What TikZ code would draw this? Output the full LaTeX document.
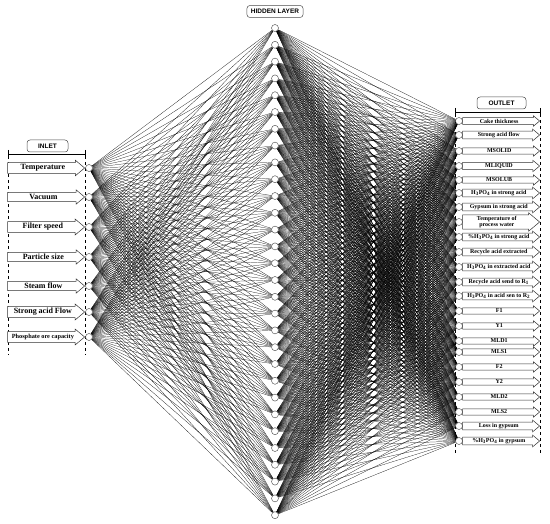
\documentclass[tikz,border=0pt]{standalone}
\usepackage{fontspec}
\setmainfont{Liberation Serif}
\newfontfamily\boxfont{Liberation Sans}
\usetikzlibrary{shapes.arrows,backgrounds}

\tikzset{
    neuron/.style={circle,draw=black!75,fill=white,minimum size=7pt,inner sep=0pt,line width=0.4pt},
    link/.style={line width=0.22pt,black},
    inarrow/.style={single arrow,draw=black!80,fill=white,line width=0.5pt,anchor=tip,
        minimum height=77pt,single arrow head extend=2.5pt,single arrow tip angle=80,
        inner xsep=1pt,inner ysep=1.6pt,font=\bfseries\fontsize{8}{9}\selectfont},
    outarrow/.style={single arrow,draw=black!80,fill=white,line width=0.5pt,anchor=tip,
        minimum height=77pt,single arrow head extend=2pt,single arrow tip angle=80,
        inner xsep=1pt,inner ysep=0.9pt,align=center,font=\bfseries\fontsize{6}{6.6}\selectfont},
    titlebox/.style={draw=black!70,fill=white,rounded corners=3pt,line width=0.5pt,
        font=\boxfont\bfseries\fontsize{6.5}{7}\selectfont,minimum height=12pt,inner xsep=4pt},
    bracket/.style={|-|,line width=0.4pt},
    guide/.style={dashed,line width=0.4pt}
}

\begin{document}
\begin{tikzpicture}[x=1pt,y=-1pt]
    \useasboundingbox (0,0) rectangle (550,524);

    % titles
    \node[titlebox] (hidtitle) at (275,11.5) {HIDDEN LAYER};
    \node[titlebox,minimum width=41pt] (intitle) at (47.5,146) {INLET};
    \node[titlebox,minimum width=49pt] (outtitle) at (501.5,103) {OUTLET};

    % frames
    \draw[bracket] (8,154) -- (85,154);
    \draw[guide] (8,150) -- (8,355);
    \draw[guide] (85,150) -- (85,355);
    \draw[bracket] (455,112) -- (540,112);
    \draw[guide] (455,108) -- (455,455);
    \draw[guide] (540,108) -- (540,455);

    % input layer
    \foreach \y/\txt [count=\i] in {168/Temperature,197/Vacuum,227/Filter speed,
        257/Particle size,286/Steam flow,312/Strong acid Flow}
    {
        \node[neuron] (in\i) at (89,\y) {};
        \node[inarrow] (ia\i) at (85,\y) {\txt};
    }
    \node[neuron] (in7) at (89,337) {};
    \node[inarrow,font=\bfseries\fontsize{6.3}{7}\selectfont,inner ysep=2.3pt] (ia7) at (85,337) {Phosphate ore capacity};

    % hidden layer
    \foreach \j in {1,...,30}
        \node[neuron] (hid\j) at (275,{28+(\j-1)*16.8}) {};

    % output layer
    \foreach \y/\txt [count=\k] in {121/Cake thickness,135/Strong acid flow,151/MSOLID,
        166/MLIQUID,180/MSOLUB,193/H\textsubscript{3}PO\textsubscript{4} in strong acid,
        207/Gypsum in strong acid,222/Temperature of\\process water,
        237/\%H\textsubscript{3}PO\textsubscript{4} in strong acid,252/Recycle acid extracted,
        267/H\textsubscript{3}PO\textsubscript{4} in extracted acid,
        282/Recycle acid send to R\textsubscript{1},
        296/H\textsubscript{3}PO\textsubscript{4} in acid sen to R\textsubscript{2},
        311/F1,326/Y1,341/MLD1,352/MLS1,367/F2,382/Y2,397/MLD2,412/MLS2,
        426/Loss in gypsum,441/\%H\textsubscript{3}PO\textsubscript{4} in gypsum}
    {
        \node[neuron] (out\k) at (459,\y) {};
        \node[outarrow] (oa\k) at (540,\y) {\txt};
    }

    % connections
    \begin{scope}[on background layer]
        \foreach \i in {1,...,7}
            \foreach \j in {1,...,30}
                \draw[link] (in\i) -- (hid\j);
        \foreach \j in {1,...,30}
            \foreach \k in {1,...,23}
                \draw[link] (hid\j) -- (out\k);
    \end{scope}
\end{tikzpicture}
\end{document}
